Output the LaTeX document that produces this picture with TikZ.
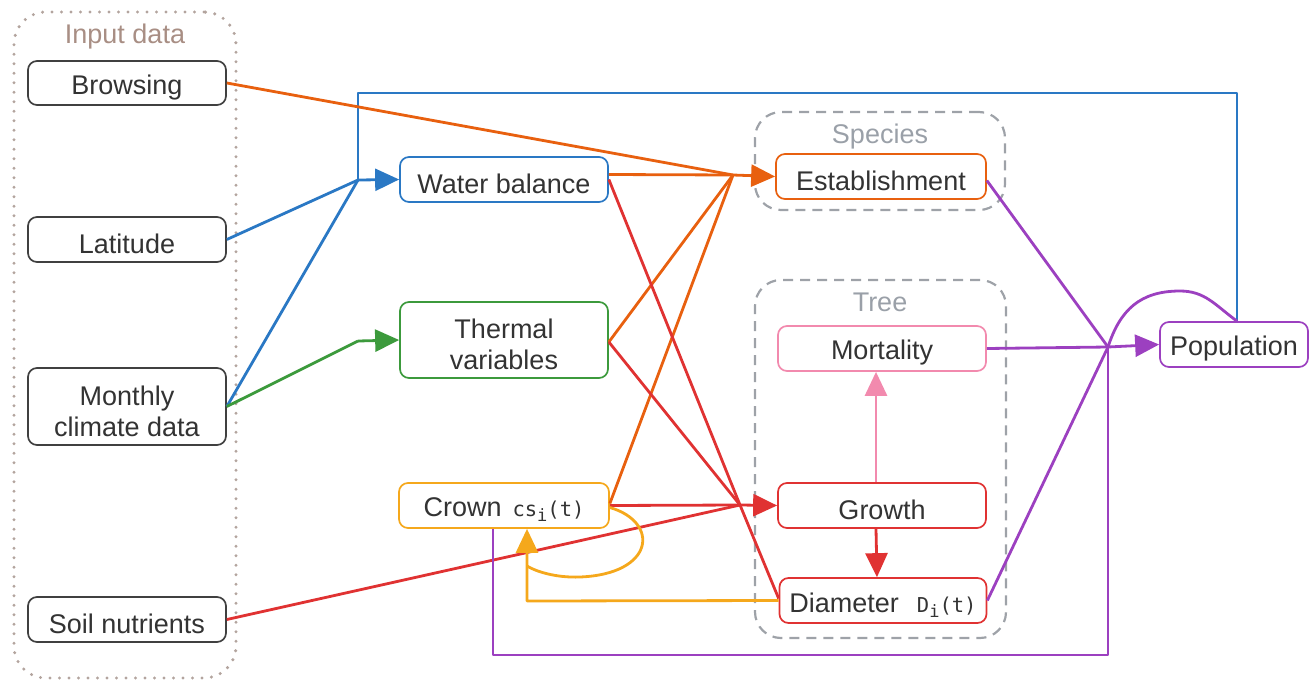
\documentclass[tikz,border=0pt]{standalone}
\usepackage{fontspec}
\setmainfont{Liberation Sans}
\newfontfamily\codefont{DejaVu Sans Mono}
\usetikzlibrary{arrows.meta}

\definecolor{cblue}{HTML}{2A78C4}
\definecolor{corange}{HTML}{E8600F}
\definecolor{cgreen}{HTML}{3C9A3C}
\definecolor{cred}{HTML}{E03232}
\definecolor{cpurple}{HTML}{9C40C0}
\definecolor{cpink}{HTML}{F28AAE}
\definecolor{cyellow}{HTML}{F5A81C}
\definecolor{ctext}{HTML}{333333}
\definecolor{cinput}{HTML}{A88E84}
\definecolor{cdots}{HTML}{B3A49E}
\definecolor{cgroup}{HTML}{9EA2A8}
\definecolor{cgrouptext}{HTML}{9AA0A8}
\definecolor{cborder}{HTML}{404040}

\newcommand{\codesub}[3]{{\codefont\fontsize{20.5}{24}\selectfont #1\raisebox{-5pt}{\fontsize{17}{18}\selectfont #2}#3}}

\tikzset{
  box/.style={draw, rounded corners=9pt, fill=white, line width=1.7pt, inner sep=0pt,
    label={[boxtext]center:#1}},
  boxtext/.style={text=ctext, font=\fontsize{27}{31}\selectfont, align=center,
    inner sep=0pt, yshift=-4.5pt},
  grp/.style={draw=cgroup, rounded corners=26pt, line width=2.2pt, dash pattern=on 10pt off 7pt,
    inner sep=0pt},
  inputgrp/.style={draw=cdots, rounded corners=32pt, line width=3.4pt, line cap=round,
    dash pattern=on 0pt off 9.5pt, inner sep=0pt},
  grplabel/.style={font=\fontsize{27}{31}\selectfont, inner sep=0pt},
  flow/.style={line width=2.8pt, line join=round},
  tip/.style={-{Triangle[length=24pt,width=22pt]}},
}

\begin{document}
\begin{tikzpicture}[x=1pt,y=-1pt]
\path[use as bounding box] (0,0) rectangle (1309,680);

% groups
\node[inputgrp, minimum width=222pt, minimum height=666pt] (inputs) at (125,345) {};
\node[grplabel, text=cinput] (inputslbl) at (125,37) {Input data};
\node[grp, minimum width=250pt, minimum height=98pt] (species) at (880,161) {};
\node[grplabel, text=cgrouptext] (specieslbl) at (880,137) {Species};
\node[grp, minimum width=251pt, minimum height=358pt] (tree) at (880.5,459) {};
\node[grplabel, text=cgrouptext] (treelbl) at (880,302) {Tree};

% input nodes
\node[box={Browsing}, draw=cborder, minimum width=198pt, minimum height=44pt] (browse) at (127,83) {};
\node[box={Latitude}, draw=cborder, minimum width=198pt, minimum height=45pt] (lat) at (127,239.5) {};
\node[box={Monthly\\climate data}, draw=cborder, minimum width=198pt, minimum height=77pt] (clim) at (127,406.5) {};
\node[box={Soil nutrients}, draw=cborder, minimum width=198pt, minimum height=45pt] (soil) at (127,619.5) {};

% derived variables
\node[box={Water balance}, draw=cblue, minimum width=208pt, minimum height=45pt] (water) at (504,179.5) {};
\node[box={Thermal\\variables}, draw=cgreen, minimum width=208pt, minimum height=76pt] (thermal) at (504,340) {};
\node[box={Crown\hspace{11pt}\codesub{cs}{i}{(t)}}, draw=cyellow, minimum width=210pt, minimum height=45pt] (crown) at (504,505.5) {};

% processes
\node[box={Establishment}, draw=corange, minimum width=210pt, minimum height=45pt] (estab) at (881,176.5) {};
\node[box={Mortality}, draw=cpink, minimum width=208pt, minimum height=45pt] (mort) at (882,348.5) {};
\node[box={Growth}, draw=cred, minimum width=208pt, minimum height=45pt] (growth) at (882,505.5) {};
\node[box={Diameter\hspace{18pt}\codesub{D}{i}{(t)}}, draw=cred, minimum width=207pt, minimum height=45pt] (diam) at (883,600.5) {};
\node[box={Population}, draw=cpurple, minimum width=148pt, minimum height=45pt] (pop) at (1234,344.5) {};

% junction points
\coordinate (wbj) at (358,180);
\coordinate (thj) at (358,341);
\coordinate (esj) at (733,175);
\coordinate (grj) at (740,505);
\coordinate (ppj) at (1108,347);
\coordinate (bl1) at (1237,93);
\coordinate (bl2) at (358,93);
\coordinate (pc1) at (493,655);
\coordinate (pc2) at (1108,655);
\coordinate (yl) at (527,601);

% water balance inputs
\draw[flow, cblue] (pop.north -| bl1) -- (bl1) -- (bl2) -- (wbj);
\draw[flow, cblue] (lat.east) -- (wbj);
\draw[flow, cblue] (clim.east) -- (wbj);
\draw[flow, cblue, tip] (wbj) -- (water.west);

% thermal variables input
\draw[flow, cgreen] (clim.east) -- (thj);
\draw[flow, cgreen, tip] (thj) -- (thermal.west);

% establishment inputs
\draw[flow, corange] (browse.east) -- (esj);
\draw[flow, corange] ([yshift=5pt]water.east) -- (esj);
\draw[flow, corange] ([yshift=-2pt]thermal.east) -- (esj);
\draw[flow, corange] ([yshift=2pt]crown.east) -- (esj);
\draw[flow, corange, tip] (esj) -- (estab.west);

% growth inputs
\draw[flow, cred] (water.east) -- (grj);
\draw[flow, cred] ([yshift=-2pt]thermal.east) -- (grj);
\draw[flow, cred] (crown.east) -- (grj);
\draw[flow, cred] (soil.east) -- (grj);
\draw[flow, cred] ([yshift=2pt]diam.west) -- (grj);
\draw[flow, cred, tip] (grj) -- (growth.west);

% tree internals
\draw[flow, cred, tip] ([xshift=-6pt]growth.south) -- ([xshift=-6pt]diam.north);
\draw[flow, cpink, tip] ([xshift=-6pt]growth.north) -- ([xshift=-6pt]mort.south);

% crown feedback
\draw[flow, cyellow] ([yshift=-2pt]crown.east) .. controls (660,522) and (655,574) .. (580,577)
  .. controls (555,578) and (535,571) .. (527,566);
\draw[flow, cyellow, tip] (diam.west) -- (yl) -- (crown.south -| yl);

% population inputs
\draw[flow, cpurple] ([yshift=-4pt]estab.east) -- (ppj);
\draw[flow, cpurple] (mort.east) -- (ppj);
\draw[flow, cpurple] (diam.east) -- (ppj);
\draw[flow, cpurple] (crown.south -| pc1) -- (pc1) -- (pc2) -- (ppj);
\draw[flow, cpurple] (pop.north -| bl1) .. controls (1215,305) and (1205,291) .. (1180,291)
  .. controls (1140,291) and (1120,310) .. (ppj);
\draw[flow, cpurple, tip] (ppj) -- (pop.west);
\end{tikzpicture}
\end{document}
